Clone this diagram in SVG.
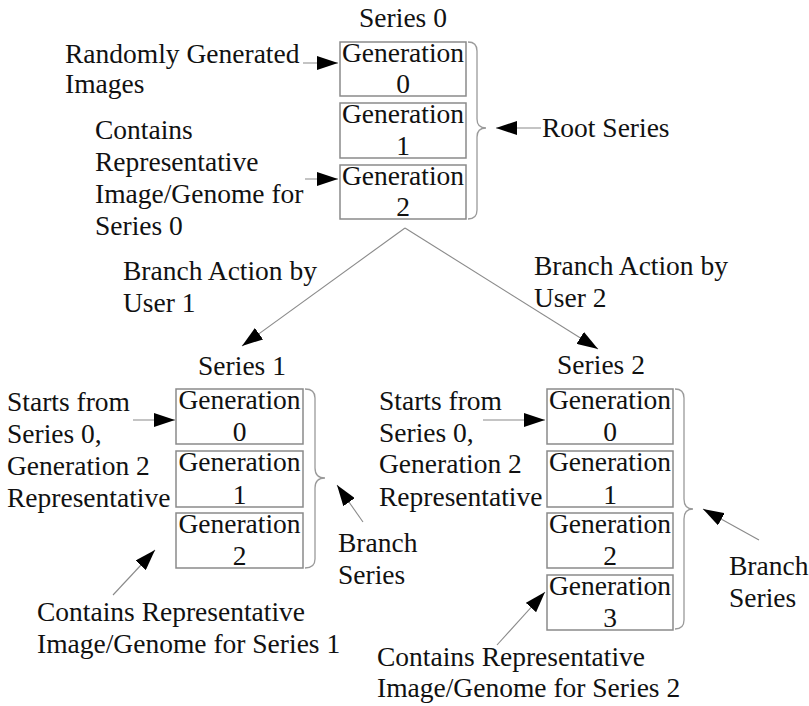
<svg xmlns="http://www.w3.org/2000/svg" width="809" height="706" viewBox="0 0 809 706" font-family="Liberation Serif, DejaVu Serif, serif">
<defs>
<style>
text{font-family:'Liberation Serif','DejaVu Serif',serif;font-size:27.5px;fill:#111}
.c{text-anchor:middle}
.box{fill:#fff;stroke:#8a8a8a;stroke-width:1.5}
.brace{fill:none;stroke:#9a9a9a;stroke-width:1.3}
.ln{fill:none;stroke:#8a8a8a;stroke-width:1.1;marker-end:url(#ah)}
</style>
<marker id="ah" markerUnits="userSpaceOnUse" markerWidth="22" markerHeight="14" refX="21" refY="7" orient="auto">
<path d="M0,0 L21,7 L0,14 Z" fill="#000"/>
</marker>
</defs>
<rect width="809" height="706" fill="#fff"/>

<g id="series0">
<text class="c" x="403" y="27">Series 0</text>
<g id="s0g0"><rect class="box" x="340" y="42" width="126" height="54"/><text class="c" x="403" y="62">Generation</text><text class="c" x="403" y="93">0</text></g>
<g id="s0g1"><rect class="box" x="340" y="103" width="126" height="55"/><text class="c" x="403" y="123">Generation</text><text class="c" x="403" y="155">1</text></g>
<g id="s0g2"><rect class="box" x="340" y="165" width="126" height="54"/><text class="c" x="403" y="185">Generation</text><text class="c" x="403" y="216">2</text></g>
<path class="brace" d="M468,42 Q477,42 477,51 L477,119 Q477,128 486,128 Q477,128 477,137 L477,210 Q477,219 468,219"/>
</g>

<g id="series1">
<text class="c" x="242" y="375">Series 1</text>
<g id="s1g0"><rect class="box" x="176" y="389" width="127" height="55"/><text class="c" x="239.5" y="409">Generation</text><text class="c" x="239.5" y="441">0</text></g>
<g id="s1g1"><rect class="box" x="176" y="451" width="127" height="56"/><text class="c" x="239.5" y="471">Generation</text><text class="c" x="239.5" y="504">1</text></g>
<g id="s1g2"><rect class="box" x="176" y="513" width="127" height="55"/><text class="c" x="239.5" y="533">Generation</text><text class="c" x="239.5" y="565">2</text></g>
<path class="brace" d="M305,389 Q315,389 315,398 L315,468 Q315,478 325,478 Q315,478 315,488 L315,559 Q315,568 305,568"/>
</g>

<g id="series2">
<text class="c" x="601" y="374">Series 2</text>
<g id="s2g0"><rect class="box" x="547" y="389" width="126" height="55"/><text class="c" x="610" y="409">Generation</text><text class="c" x="610" y="441">0</text></g>
<g id="s2g1"><rect class="box" x="547" y="451" width="126" height="56"/><text class="c" x="610" y="471">Generation</text><text class="c" x="610" y="504">1</text></g>
<g id="s2g2"><rect class="box" x="547" y="513" width="126" height="55"/><text class="c" x="610" y="533">Generation</text><text class="c" x="610" y="565">2</text></g>
<g id="s2g3"><rect class="box" x="547" y="575" width="126" height="55"/><text class="c" x="610" y="595">Generation</text><text class="c" x="610" y="627">3</text></g>
<path class="brace" d="M675,389 Q684,389 684,398 L684,499 Q684,509 693,509 Q684,509 684,519 L684,620 Q684,629 675,629"/>
</g>

<g id="labels">
<text x="65" y="63">Randomly Generated</text>
<text x="65" y="93">Images</text>
<text x="95" y="139">Contains</text>
<text x="95" y="171">Representative</text>
<text x="95" y="203">Image/Genome for</text>
<text x="95" y="235">Series 0</text>
<text x="542" y="137">Root Series</text>
<text x="123" y="280">Branch Action by</text>
<text x="123" y="312">User 1</text>
<text x="534" y="275">Branch Action by</text>
<text x="534" y="307">User 2</text>
<text x="7" y="411">Starts from</text>
<text x="7" y="443">Series 0,</text>
<text x="7" y="475">Generation 2</text>
<text x="7" y="507">Representative</text>
<text x="379" y="410">Starts from</text>
<text x="379" y="442">Series 0,</text>
<text x="379" y="473">Generation 2</text>
<text x="379" y="506">Representative</text>
<text x="338" y="552">Branch</text>
<text x="338" y="584">Series</text>
<text x="729" y="575">Branch</text>
<text x="729" y="607">Series</text>
<text x="37" y="621">Contains Representative</text>
<text x="37" y="653">Image/Genome for Series 1</text>
<text x="377" y="666">Contains Representative</text>
<text x="377" y="697">Image/Genome for Series 2</text>
</g>

<g id="connectors">
<line class="ln" x1="303" y1="63" x2="338" y2="63"/>
<line class="ln" x1="305" y1="179" x2="338" y2="179"/>
<line class="ln" x1="541" y1="128" x2="496" y2="128"/>
<line class="ln" x1="405" y1="228" x2="242" y2="346"/>
<line class="ln" x1="405" y1="228" x2="598" y2="349"/>
<line class="ln" x1="133" y1="420" x2="175" y2="420"/>
<line class="ln" x1="483" y1="420" x2="545" y2="420"/>
<line class="ln" x1="363" y1="522" x2="337" y2="485"/>
<line class="ln" x1="113" y1="595" x2="155" y2="550"/>
<line class="ln" x1="759" y1="540" x2="703" y2="509"/>
<line class="ln" x1="497" y1="645" x2="545" y2="592"/>
</g>
</svg>
